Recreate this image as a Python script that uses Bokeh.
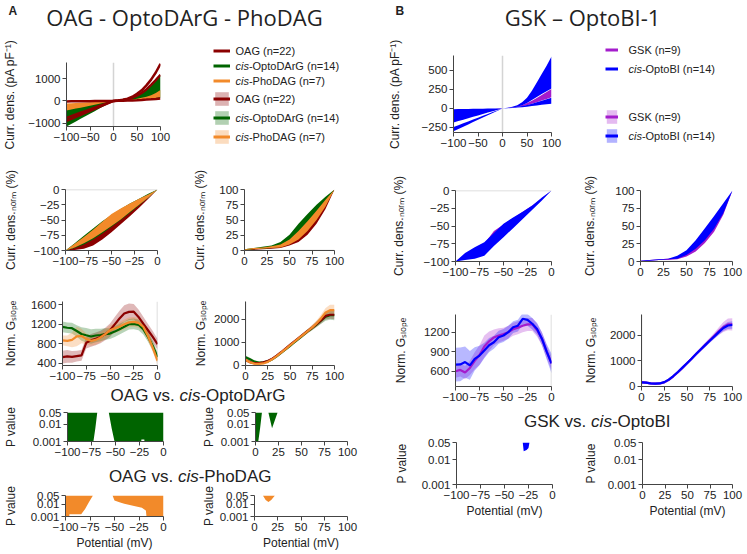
import numpy as np
from bokeh.plotting import figure
from bokeh.models import (Range1d, FixedTicker, Span, Label, Legend, LegendItem,
                          CustomJSTickFormatter)
from bokeh.layouts import row, column
from bokeh.embed import file_html
from bokeh.resources import INLINE

# ---------------- data ----------------
V_IV = list(range(-100, 101, 10))
V_NEG = list(range(-100, 1, 10))
V_POS = list(range(0, 101, 10))
V_NEG5 = list(range(-100, 1, 5))
V_POS5 = list(range(0, 101, 5))

# Panel A: current density (pA/pF)
IV_OAG_A = [-900, -810, -720, -630, -540, -450, -360, -270, -180, -90, 0, 20, 50, 100, 190, 320, 480, 700, 960, 1280, 1670]
IV_OAG_B = [-760, -684, -608, -532, -456, -380, -304, -228, -152, -76, 0, 15, 40, 80, 150, 240, 360, 520, 720, 940, 1180]
IV_OAG_C = [-20, -18, -16, -14, -12, -10, -8, -6, -4, -2, 0, 5, 10, 16, 24, 34, 46, 60, 75, 92, 110]
IV_OPTO_LO = [-1150, -1035, -920, -805, -690, -575, -460, -345, -230, -115, 0, 5, 12, 20, 30, 42, 56, 72, 92, 115, 140]
IV_OPTO_HI = [-200, -180, -160, -140, -120, -100, -80, -60, -40, -20, 0, 15, 40, 80, 140, 230, 350, 500, 680, 900, 1150]
IV_PHO_LO = [-430, -387, -344, -301, -258, -215, -172, -129, -86, -43, 0, 5, 12, 20, 30, 42, 58, 78, 104, 138, 180]
IV_PHO_HI = [-120, -108, -96, -84, -72, -60, -48, -36, -24, -12, 0, 10, 25, 45, 70, 100, 140, 190, 260, 360, 490]

# Panel A: normalised current density (%)
NN_OAG_HI = [-100, -95, -88, -80, -70, -59, -48, -37, -25, -13, 0]
NN_OAG_LO = [-100, -99, -97, -92, -82, -70, -57, -44, -30, -15, 0]
NN_OPTO_HI = [-100, -88, -76, -64, -52, -42, -32, -23, -15, -7, 0]
NN_OPTO_LO = [-100, -96, -90, -82, -72, -61, -50, -38, -26, -13, 0]
NN_PHO_HI = [-100, -89, -78, -66, -53, -40, -31, -23, -15, -8, 0]
NN_PHO_LO = [-100, -95, -88, -80, -70, -60, -49, -37, -25, -13, 0]
NP_OAG_HI = [1, 3, 4, 6, 9, 16, 30, 46, 63, 82, 100]
NP_OAG_LO = [0, 1, 2, 3, 4, 8, 14, 26, 44, 68, 100]
NP_OPTO_HI = [2, 4, 6, 8, 14, 26, 44, 60, 75, 88, 100]
NP_OPTO_LO = [0, 2, 3, 4, 6, 12, 22, 36, 54, 76, 100]
NP_PHO_HI = [2, 4, 5, 7, 10, 18, 32, 48, 65, 83, 100]
NP_PHO_LO = [1, 2, 3, 4, 5, 10, 18, 32, 50, 72, 100]

# Panel A: normalised G slope (mean, sem)
GN_OAG_M = [525, 540, 530, 545, 560, 820, 870, 900, 940, 1000, 1078, 1200, 1320, 1424, 1457, 1460, 1353, 1216, 1078, 940, 790]
GN_OAG_S = [130, 130, 120, 110, 110, 120, 130, 130, 130, 130, 140, 150, 160, 170, 170, 160, 150, 140, 130, 120, 110]
GN_OPTO_M = [1146, 1130, 1120, 1063, 1000, 974, 950, 970, 980, 1000, 1009, 1050, 1100, 1150, 1202, 1210, 1190, 1100, 940, 760, 524]
GN_OPTO_S = [110, 110, 110, 120, 140, 150, 150, 140, 130, 120, 110, 110, 110, 110, 110, 110, 110, 110, 100, 100, 100]
GN_PHO_M = [870, 860, 880, 950, 960, 900, 860, 880, 930, 1000, 1080, 1120, 1150, 1200, 1240, 1250, 1230, 1150, 960, 720, 455]
GN_PHO_S = [100, 110, 150, 200, 150, 110, 100, 100, 100, 100, 100, 100, 100, 100, 100, 100, 100, 100, 100, 90, 90]
GP_OAG_M = [220, 130, 80, 80, 120, 180, 280, 410, 560, 720, 880, 1040, 1190, 1340, 1490, 1640, 1800, 1960, 2150, 2200, 2200]
GP_OAG_S = [60, 50, 40, 40, 40, 40, 40, 50, 50, 60, 60, 60, 70, 80, 90, 100, 120, 140, 160, 180, 200]
GP_OPTO_M = [340, 250, 150, 110, 120, 160, 250, 380, 530, 680, 840, 1000, 1160, 1320, 1480, 1620, 1780, 1950, 2120, 2180, 2180]
GP_OPTO_S = [80, 70, 60, 50, 50, 50, 50, 50, 50, 60, 60, 60, 70, 80, 90, 100, 120, 140, 180, 200, 220]
GP_PHO_M = [230, 120, 60, 50, 70, 140, 250, 390, 540, 700, 860, 1020, 1180, 1330, 1490, 1650, 1830, 2050, 2300, 2400, 2400]
GP_PHO_S = [80, 60, 50, 40, 40, 40, 50, 50, 50, 60, 60, 60, 70, 80, 90, 110, 130, 160, 200, 240, 240]

# Panel A: P values
PA_OPTO_NEG_X = [-100, -73, -71, -69, -57, -54, -51, -50, -25, -23, -20, -18, 0]
PA_OPTO_NEG_P = [1e-4, 0.001, 0.006, 0.05, 0.05, 0.006, 0.001, 1e-4, 1e-4, 0.0013, 0.0013, 1e-4, 1e-4]
PA_OPTO_POS_X = [0, 3, 5, 7, 14, 18, 24, 100]
PA_OPTO_POS_P = [1e-4, 0.001, 0.006, 0.05, 0.05, 0.006, 0.05, 0.05]
PA_PHO_NEG_X = [-100, -97, -96, -84, -80, -76, -72, -52, -50, -45, -40, -30, -22, -18, -16, 0]
PA_PHO_NEG_P = [1e-4, 1e-4, 0.0015, 0.0015, 0.004, 0.015, 0.05, 0.05, 0.02, 0.014, 0.011, 0.007, 0.005, 0.003, 1e-4, 1e-4]
PA_PHO_POS_X = [0, 9, 12, 15, 18, 22, 100]
PA_PHO_POS_P = [0.05, 0.05, 0.022, 0.015, 0.022, 0.05, 0.05]

# Panel B: current density
IV_OBI1_LO = [-300, -270, -240, -210, -180, -150, -120, -90, -60, -30, 0, 5, 12, 22, 40, 70, 110, 150, 190, 225, 260]
IV_OBI1_HI = [-245, -220, -196, -171, -147, -122, -98, -73, -49, -24, 0, 8, 20, 40, 80, 140, 230, 340, 450, 560, 680]
IV_OBI2_LO = [-185, -166, -148, -130, -111, -92, -74, -55, -37, -18, 0, 3, 6, 10, 15, 22, 30, 38, 46, 54, 60]
IV_OBI2_HI = [-10, -9, -8, -7, -6, -5, -4, -3, -2, -1, 0, 5, 12, 20, 30, 45, 62, 80, 100, 120, 140]
IV_GSK_LO = [-150, -135, -120, -105, -90, -75, -60, -45, -30, -15, 0, 4, 10, 18, 28, 42, 60, 80, 102, 124, 145]
IV_GSK_HI = [-50, -45, -40, -35, -30, -25, -20, -15, -10, -5, 0, 6, 15, 28, 45, 70, 100, 135, 175, 215, 255]

NNB_OBI_HI = [-100, -88, -80, -73, -60, -47, -38, -30, -21, -10, 0]
NNB_OBI_LO = [-100, -98, -96, -92, -78, -66, -53, -40, -27, -14, 0]
NNB_GSK_HI = [-100, -90, -82, -75, -57, -48, -39, -30, -21, -11, 0]
NNB_GSK_LO = [-100, -93, -86, -79, -64, -54, -44, -34, -23, -12, 0]
NPB_OBI_HI = [1, 2, 3, 4, 8, 16, 30, 47, 64, 82, 100]
NPB_OBI_LO = [0, 1, 2, 3, 4, 9, 18, 30, 46, 68, 100]
NPB_GSK_HI = [1, 2, 3, 4, 6, 12, 22, 36, 54, 76, 100]
NPB_GSK_LO = [0, 1, 2, 2, 3, 7, 14, 26, 42, 66, 100]

GNB_OBI_M = [700, 705, 740, 690, 790, 840, 918, 1000, 1046, 1123, 1149, 1200, 1277, 1300, 1406, 1390, 1330, 1250, 1100, 900, 720]
GNB_OBI_S = [260, 260, 240, 220, 180, 150, 120, 110, 100, 100, 100, 100, 90, 90, 90, 90, 90, 90, 100, 120, 150]
GNB_GSK_M = [600, 620, 580, 650, 760, 850, 980, 1060, 1120, 1150, 1170, 1200, 1246, 1270, 1300, 1320, 1320, 1230, 1100, 900, 720]
GNB_GSK_S = [100, 100, 100, 110, 130, 150, 170, 150, 120, 110, 100, 100, 100, 100, 100, 100, 100, 100, 100, 100, 100]
GPB_OBI_M = [150, 140, 110, 100, 110, 160, 260, 400, 560, 730, 900, 1080, 1260, 1440, 1610, 1780, 1950, 2120, 2280, 2380, 2400]
GPB_OBI_S = [40, 40, 40, 40, 40, 40, 50, 50, 50, 60, 60, 60, 60, 70, 70, 80, 90, 100, 120, 140, 150]
GPB_GSK_M = [160, 140, 110, 100, 110, 150, 250, 390, 550, 720, 900, 1080, 1260, 1440, 1620, 1800, 1980, 2160, 2320, 2420, 2420]
GPB_GSK_S = [50, 50, 50, 50, 50, 50, 50, 60, 60, 60, 60, 70, 70, 80, 90, 100, 120, 150, 200, 230, 240]

PB_NEG_X = [-100, -31, -30, -27, -25, -24, 0]
PB_NEG_P = [0.05, 0.05, 0.022, 0.025, 0.03, 0.05, 0.05]
PB_POS_X = [0, 100]
PB_POS_P = [0.05, 0.05]

# ticks
T_IV = [-100, -50, 0, 50, 100]
T_NEG = [-100, -75, -50, -25, 0]
T_POS = [0, 25, 50, 75, 100]
T_IVA_Y = [-1000, 0, 1000]
T_IVB_Y = [-250, 0, 250, 500]
T_GNA_Y = [400, 800, 1200, 1600]
T_GP_Y = [0, 1000, 2000]
T_GNB_Y = [600, 900, 1200]
T_P_Y = [0.001, 0.01, 0.05]

# ---------------- style ----------------
RED = "#8b0000"
GREEN = "#006400"
ORANGE = "#f28a2a"
MAG = "#a41ccc"
BLUE = "#0000ff"
AXC = "#444444"
TXT = "#222222"
GREY = "#d4d4d4"
TF = "Liberation Sans"

LAB_IV = "Curr. dens. (pA pF\u207b\u00b9)"
LAB_NORM = "Curr. dens.\u2099\u2092\u1d63\u2098 (%)"
LAB_G = "Norm. G\u209b\u2097\u2092\u209a\u2091"
LAB_P = "P value"
LAB_X = "Potential (mV)"


def plotfig(w, h, xr, yr, bl, br, bt, bb, ylog=False):
    p = figure(width=w, height=h, x_range=Range1d(*xr), y_range=Range1d(*yr),
               y_axis_type="log" if ylog else "linear", output_backend="svg",
               toolbar_location=None, min_border_left=bl, min_border_right=br,
               min_border_top=bt, min_border_bottom=bb)
    p.outline_line_color = None
    p.grid.visible = False
    return p


def axes(p, xt, yt, ylab, ystand, xlab=None, pfmt=False):
    p.xaxis.ticker = FixedTicker(ticks=xt)
    p.yaxis.ticker = FixedTicker(ticks=yt)
    if pfmt:
        p.yaxis.formatter = CustomJSTickFormatter(code="return String(tick)")
    for ax in p.axis:
        ax.axis_line_color = AXC
        ax.major_tick_line_color = AXC
        ax.major_tick_out = 4
        ax.major_tick_in = 0
        ax.minor_tick_line_color = None
        ax.major_label_text_font = TF
        ax.major_label_text_font_size = "11.5px"
        ax.major_label_text_color = TXT
        ax.major_label_standoff = 2
        ax.axis_label_text_font = TF
        ax.axis_label_text_font_size = "12px"
        ax.axis_label_text_font_style = "normal"
        ax.axis_label_text_color = TXT
    p.yaxis.axis_label = ylab
    p.yaxis.axis_label_standoff = ystand
    if xlab:
        p.xaxis.axis_label = xlab
        p.xaxis.axis_label_standoff = 2


def vline(p):
    p.add_layout(Span(location=0, dimension="height", line_color=GREY, line_width=1.5, level="underlay"))


def hline(p):
    p.add_layout(Span(location=0, dimension="width", line_color=GREY, line_width=1.5, level="underlay"))


def gband(p, x, m, s, color):
    m = np.array(m, dtype=float)
    s = np.array(s, dtype=float)
    p.varea(x=x, y1=m - s, y2=m + s, fill_color=color, fill_alpha=0.28)


def pfill(p, x, pv, color):
    p.varea(x=x, y1=pv, y2=np.full(len(pv), 0.05), fill_color=color)


def textfig(w, h):
    p = figure(width=w, height=h, x_range=Range1d(0, w), y_range=Range1d(h, 0),
               output_backend="svg", toolbar_location=None, min_border=0,
               x_axis_location=None, y_axis_location=None)
    p.outline_line_color = None
    p.grid.visible = False
    return p


def lab(p, x, y, text, size, style="normal", font=TF, align="left"):
    p.add_layout(Label(x=x, y=y, text=text, text_font=font, text_font_size=size,
                       text_font_style=style, text_align=align, text_baseline="middle",
                       text_color=TXT))


def mklegend(items, loc, gw, gh):
    return Legend(items=items, location=loc, orientation="vertical", glyph_width=gw,
                  glyph_height=gh, spacing=2, padding=0, margin=0, border_line_color=None,
                  background_fill_alpha=0, label_text_font_size="11px", label_standoff=0)


NAN1 = [np.nan]  # legend-only renderers draw nothing in the plot area


def leg_line(p, c):
    return p.line(x=NAN1, y=NAN1, line_color=c, line_width=3)


def leg_band(p, c):
    return p.varea(x=NAN1, y1=NAN1, y2=NAN1, fill_color=c, fill_alpha=0.3)


def leg_entries(p, entries, x, ys, cisw=13.4):
    for (name, cis), y in zip(entries, ys):
        if cis:
            lab(p, x, y, "cis", "11px", "italic")
            lab(p, x + cisw, y, name, "11px")
        else:
            lab(p, x, y, name, "11px")


# ======================= Panel A  (x 0..380) =======================
tA = textfig(380, 32)
lab(tA, 8, 10, "A", "12px", "bold")
lab(tA, 184, 16, "OAG - OptoDArG - PhoDAG", "22px", font="Open Sans", align="center")

# IV
ivA = plotfig(198, 138, (-100, 100), (-1150, 1730), 62, 38, 30, 44)
vline(ivA)
ivA.varea(x=V_IV, y1=IV_OPTO_LO, y2=IV_OPTO_HI, fill_color=GREEN)
ivA.varea(x=V_IV, y1=IV_PHO_LO, y2=IV_PHO_HI, fill_color=ORANGE)
for arr in (IV_OAG_A, IV_OAG_B, IV_OAG_C):
    ivA.line(V_IV, arr, line_color=RED, line_width=2.5)
axes(ivA, T_IV, T_IVA_Y, LAB_IV, 8)

# legend A: whole figure is the frame; data units = px from top-left
legA = textfig(182, 138)
la = [leg_line(legA, c) for c in (RED, GREEN, ORANGE)]
ba = [(leg_band(legA, c), leg_line(legA, c)) for c in (RED, GREEN, ORANGE)]
legA.add_layout(mklegend([LegendItem(label=" ", renderers=[r]) for r in la], (15, 138 - 12 - 43), 17, 13))
legA.add_layout(mklegend([LegendItem(label=" ", renderers=list(r)) for r in ba], (15, 138 - 58 - 55), 17, 17))
entA = [("OAG (n=22)", False), ("-OptoDArG (n=14)", True), ("-PhoDAG (n=7)", True)]
leg_entries(legA, entA, 37, [18.5, 33.5, 48.5])
leg_entries(legA, entA, 37, [66.5, 85.5, 104.5])

# normalised
a2 = plotfig(190, 120, (-100, 0), (-100, 0), 62, 33, 19, 40)
hline(a2)
a2.varea(x=V_NEG, y1=NN_OAG_LO, y2=NN_OAG_HI, fill_color=RED)
a2.varea(x=V_NEG, y1=NN_OPTO_LO, y2=NN_OPTO_HI, fill_color=GREEN)
a2.varea(x=V_NEG, y1=NN_PHO_LO, y2=NN_PHO_HI, fill_color=ORANGE)
axes(a2, T_NEG, T_NEG, LAB_NORM, 13)

a3 = plotfig(190, 120, (0, 100), (0, 100), 49, 46, 19, 40)
hline(a3)
a3.varea(x=V_POS, y1=NP_OAG_LO, y2=NP_OAG_HI, fill_color=RED)
a3.varea(x=V_POS, y1=NP_OPTO_LO, y2=NP_OPTO_HI, fill_color=GREEN)
a3.varea(x=V_POS, y1=NP_PHO_LO, y2=NP_PHO_HI, fill_color=ORANGE)
axes(a3, T_POS, T_POS, LAB_NORM, 9)

# G slope
a4 = plotfig(190, 95, (-100, 0), (352, 1670), 62, 33, 11, 20)
vline(a4)
gband(a4, V_NEG5, GN_OAG_M, GN_OAG_S, RED)
gband(a4, V_NEG5, GN_OPTO_M, GN_OPTO_S, GREEN)
gband(a4, V_NEG5, GN_PHO_M, GN_PHO_S, ORANGE)
a4.line(V_NEG5, GN_OPTO_M, line_color=GREEN, line_width=2.2)
a4.line(V_NEG5, GN_OAG_M, line_color=RED, line_width=2.2)
a4.line(V_NEG5, GN_PHO_M, line_color=ORANGE, line_width=2.2)
axes(a4, T_NEG, T_GNA_Y, LAB_G, 10)

a5 = plotfig(190, 95, (0, 100), (-20, 2780), 49, 46, 11, 20)
vline(a5)
gband(a5, V_POS5, GP_OAG_M, GP_OAG_S, RED)
gband(a5, V_POS5, GP_OPTO_M, GP_OPTO_S, GREEN)
gband(a5, V_POS5, GP_PHO_M, GP_PHO_S, ORANGE)
a5.line(V_POS5, GP_OPTO_M, line_color=GREEN, line_width=2.2)
a5.line(V_POS5, GP_OAG_M, line_color=RED, line_width=2.2)
a5.line(V_POS5, GP_PHO_M, line_color=ORANGE, line_width=2.2)
axes(a5, T_POS, T_GP_Y, LAB_G, 3)

# subtitles
tA2 = textfig(380, 20)
lab(tA2, 110.1, 10, "OAG vs. ", "17px")
lab(tA2, 179.1, 10, "cis", "17px", "italic")
lab(tA2, 199.9, 10, "-OptoDArG", "17px")

a6 = plotfig(198, 61, (-100, 0), (0.001, 0.05), 66, 35, 7, 25, ylog=True)
pfill(a6, PA_OPTO_NEG_X, PA_OPTO_NEG_P, GREEN)
axes(a6, T_NEG, T_P_Y, LAB_P, 12, pfmt=True)
a7 = plotfig(182, 61, (0, 100), (0.001, 0.05), 51, 33, 7, 25, ylog=True)
pfill(a7, PA_OPTO_POS_X, PA_OPTO_POS_P, GREEN)
axes(a7, T_POS, T_P_Y, LAB_P, 2, pfmt=True)

tA3 = textfig(380, 20)
lab(tA3, 108.4, 10, "OAG vs. ", "17px")
lab(tA3, 177.4, 10, "cis", "17px", "italic")
lab(tA3, 198.2, 10, "-PhoDAG", "17px")

a8 = plotfig(198, 66, (-100, 0), (0.001, 0.05), 63, 35, 9, 34, ylog=True)
pfill(a8, PA_PHO_NEG_X, PA_PHO_NEG_P, ORANGE)
axes(a8, T_NEG, T_P_Y, LAB_P, 10, xlab=LAB_X, pfmt=True)
a9 = plotfig(182, 66, (0, 100), (0.001, 0.05), 50, 33, 9, 34, ylog=True)
pfill(a9, PA_PHO_POS_X, PA_PHO_POS_P, ORANGE)
axes(a9, T_POS, T_P_Y, LAB_P, 1, xlab=LAB_X, pfmt=True)

colA = column(tA, row(ivA, column(legA)), row(a2, a3), row(a4, a5), tA2, row(a6, a7), tA3, row(a8, a9))

# ======================= Panel B  (x 380..745) =======================
tB = textfig(365, 32)
lab(tB, 15, 10, "B", "12px", "bold")
lab(tB, 202, 16, "GSK \u2013 OptoBI-1", "22px", font="Open Sans", align="center")

ivB = plotfig(200, 138, (-100, 100), (-316, 693), 73, 29, 23, 38)
vline(ivB)
ivB.varea(x=V_IV, y1=IV_GSK_LO, y2=IV_GSK_HI, fill_color=MAG)
ivB.varea(x=V_IV, y1=IV_OBI2_LO, y2=IV_OBI2_HI, fill_color=BLUE)
ivB.varea(x=V_IV, y1=IV_OBI1_LO, y2=IV_OBI1_HI, fill_color=BLUE)
axes(ivB, T_IV, T_IVB_Y, LAB_IV, 17)

legB = textfig(165, 138)
lb = [leg_line(legB, c) for c in (MAG, BLUE)]
bbB = [(leg_band(legB, c), leg_line(legB, c)) for c in (MAG, BLUE)]
legB.add_layout(mklegend([LegendItem(label=" ", renderers=[r]) for r in lb], (25, 138 - 9 - 36), 13, 17))
legB.add_layout(mklegend([LegendItem(label=" ", renderers=list(r)) for r in bbB], (25, 138 - 76 - 36), 13, 17))
entB = [("GSK (n=9)", False), ("-OptoBI (n=14)", True)]
leg_entries(legB, entB, 48, [17.5, 36.5])
leg_entries(legB, entB, 48, [84.5, 103.5])

b2 = plotfig(200, 120, (-100, 0), (-100, 0), 75, 29, 20, 29)
hline(b2)
b2.varea(x=V_NEG, y1=NNB_GSK_LO, y2=NNB_GSK_HI, fill_color=MAG)
b2.varea(x=V_NEG, y1=NNB_OBI_LO, y2=NNB_OBI_HI, fill_color=BLUE)
axes(b2, T_NEG, T_NEG, LAB_NORM, 15)

b3 = plotfig(165, 120, (0, 100), (0, 100), 56, 13, 20, 29)
hline(b3)
b3.varea(x=V_POS, y1=NPB_GSK_LO, y2=NPB_GSK_HI, fill_color=MAG)
b3.varea(x=V_POS, y1=NPB_OBI_LO, y2=NPB_OBI_HI, fill_color=BLUE)
axes(b3, T_POS, T_POS, LAB_NORM, 15)

b4 = plotfig(200, 120, (-100, 0), (365, 1472), 75, 29, 24, 24)
vline(b4)
gband(b4, V_NEG5, GNB_GSK_M, GNB_GSK_S, MAG)
gband(b4, V_NEG5, GNB_OBI_M, GNB_OBI_S, BLUE)
b4.line(V_NEG5, GNB_GSK_M, line_color=MAG, line_width=2.2)
b4.line(V_NEG5, GNB_OBI_M, line_color=BLUE, line_width=2.2)
axes(b4, T_NEG, T_GNB_Y, LAB_G, 13)

b5 = plotfig(165, 120, (0, 100), (-10, 2810), 56, 13, 24, 24)
vline(b5)
gband(b5, V_POS5, GPB_GSK_M, GPB_GSK_S, MAG)
gband(b5, V_POS5, GPB_OBI_M, GPB_OBI_S, BLUE)
b5.line(V_POS5, GPB_GSK_M, line_color=MAG, line_width=2.2)
b5.line(V_POS5, GPB_OBI_M, line_color=BLUE, line_width=2.2)
axes(b5, T_POS, T_GP_Y, LAB_G, 9)

tB2 = textfig(365, 20)
lab(tB2, 143.5, 10.5, "GSK vs. ", "17px")
lab(tB2, 210.6, 10.5, "cis", "17px", "italic")
lab(tB2, 231.4, 10.5, "-OptoBI", "17px")

b6 = plotfig(200, 90, (-100, 0), (0.001, 0.05), 76, 28, 12, 34, ylog=True)
pfill(b6, PB_NEG_X, PB_NEG_P, BLUE)
axes(b6, T_NEG, T_P_Y, LAB_P, 10, xlab=LAB_X, pfmt=True)
b7 = plotfig(165, 90, (0, 100), (0.001, 0.05), 56, 13, 12, 34, ylog=True)
pfill(b7, PB_POS_X, PB_POS_P, BLUE)
axes(b7, T_POS, T_P_Y, LAB_P, 7, xlab=LAB_X, pfmt=True)

colB = column(tB, row(ivB, column(legB)), row(b2, b3), row(b4, b5), tB2, row(b6, b7))

layout = row(colA, colB)
open("out.html", "w").write(file_html(layout, INLINE))
